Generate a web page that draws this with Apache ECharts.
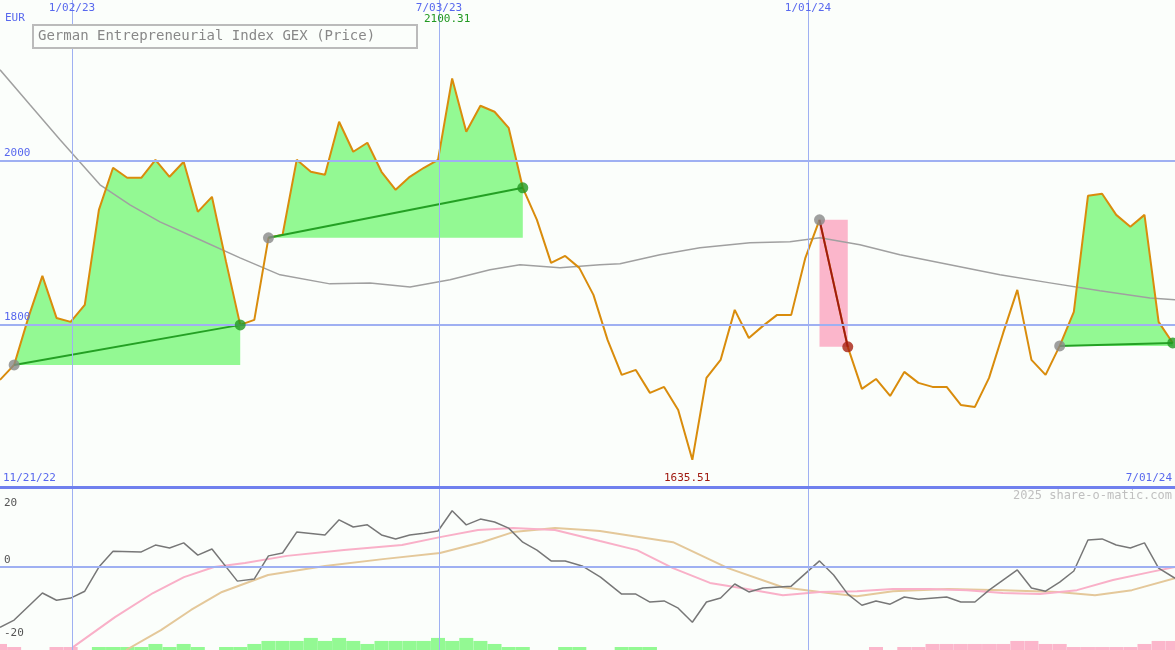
<!DOCTYPE html>
<html>
<head>
<meta charset="utf-8">
<script src="https://cdn.jsdelivr.net/npm/echarts@6/dist/echarts.min.js"></script>
<style>
  html, body { margin: 0; padding: 0; background: #fbfefb; }
  #chart { width: 1175px; height: 650px; }
</style>
</head>
<body>
<div id="chart"></div>
<script>
// weekly closes, index 0 = week of 11/28/22
var price = [1732.9, 1751.2, 1808.5, 1859.8, 1808.5, 1803.7, 1824.4, 1940.2, 1991.5, 1979.3,
  1979.3, 2001.2, 1980.5, 1998.8, 1937.8, 1956.1, 1876.8, 1800.0, 1806.1, 1906.1,
  1909.8, 2001.2, 1986.6, 1982.9, 2047.6, 2011.0, 2022.0, 1986.6, 1964.6, 1980.5,
  1991.5, 2001.2, 2100.31, 2035.4, 2067.1, 2059.8, 2040.2, 1967.1, 1928.0, 1875.6,
  1884.1, 1869.5, 1836.6, 1781.7, 1739.0, 1745.1, 1717.1, 1724.4, 1696.3, 1635.51,
  1735.4, 1757.3, 1818.3, 1784.1, 1798.8, 1812.2, 1812.2, 1881.7, 1928.0, 1851.2,
  1773.2, 1722.0, 1734.1, 1713.4, 1742.7, 1729.3, 1724.4, 1724.4, 1702.4, 1700.0,
  1735.4, 1790.2, 1842.7, 1757.3, 1739.0, 1774.4, 1815.9, 1957.3, 1959.8, 1934.1,
  1919.5, 1934.1, 1803.7, 1778.0];

// moving average [week, value]
var avgLine = [[0, 2111], [2.12, 2068.3], [4.25, 2025.6], [7.08, 1970.7], [9.2, 1946.3],
  [11.32, 1925.6], [14.15, 1903.7], [16.99, 1881.7], [19.82, 1861], [23.35, 1850],
  [26.19, 1851.2], [29.02, 1846.3], [31.85, 1854.9], [34.68, 1867.1], [36.8, 1873.2],
  [39.63, 1869.5], [42.46, 1873.2], [43.88, 1874.4], [46.71, 1885.4], [49.54, 1893.9],
  [53.08, 1900], [55.91, 1901.2], [58.03, 1906.1], [60.86, 1897.6], [63.69, 1885.4],
  [67.23, 1873.2], [70.77, 1861], [74.31, 1851.2], [77.85, 1841.5], [81.39, 1832.9],
  [83.16, 1830.5]];

// trades: [entry week, exit week, type]
var trades = [[1, 17, 'long'], [19, 37, 'long'], [58, 60, 'short'], [75, 83, 'long']];

// oscillator panel
var oscGrey = [[0, -16.7], [1, -14.7], [3, -7.2], [4, -9.2], [5, -8.6], [6, -6.7], [7, 0],
  [8, 4.4], [10, 4.2], [11, 6.1], [12, 5.3], [13, 6.7], [14, 3.3], [15, 5], [16.8, -3.9],
  [18, -3.3], [19, 3.1], [20, 3.9], [21, 9.7], [23, 8.9], [24, 13.1], [25, 11.1], [26, 11.7],
  [27, 8.9], [28, 7.8], [29, 8.9], [30, 9.4], [31, 10], [32, 15.6], [33, 11.7], [34, 13.3],
  [35, 12.5], [36, 10.8], [37, 6.9], [38, 4.7], [39, 1.7], [40, 1.7], [41.2, 0.3], [42.5, -2.8],
  [44, -7.5], [45, -7.5], [46, -9.7], [47, -9.4], [48, -11.4], [49, -15.3], [50, -9.7],
  [51, -8.6], [52, -4.7], [53, -6.9], [54, -5.8], [56, -5.3], [58, 1.7], [59, -2.2], [60, -7.5],
  [61, -10.6], [62, -9.4], [63, -10.3], [64, -8.3], [65, -8.9], [67, -8.3], [68, -9.7],
  [69, -9.7], [70, -6.4], [72, -0.8], [73, -5.8], [74, -6.7], [75, -4.2], [76, -1.1],
  [77, 7.5], [78, 7.8], [79, 6.1], [80, 5.3], [81, 6.7], [82, -0.3], [83.16, -3.1]];
var oscPink = [[5.17, -22.2], [8.14, -13.9], [10.83, -7.2], [13.02, -2.8], [15.15, 0], [17.34, 1.1],
  [20.31, 3.1], [24.35, 4.7], [28.45, 6.1], [31.14, 8.3], [33.83, 10.3], [36.31, 10.8],
  [39.28, 10.3], [42.46, 7.2], [45.08, 4.7], [47.63, -0.3], [50.25, -4.4], [52.87, -6.1],
  [55.41, -7.8], [58.03, -6.9], [60.65, -6.7], [63.2, -6.1], [65.82, -6.1], [68.44, -6.4],
  [70.98, -7.2], [73.6, -7.5], [76.22, -6.4], [78.77, -3.6], [81.39, -1.4], [83.16, 0]];
var oscTan = [[8.92, -23], [11.39, -17.5], [13.52, -11.9], [15.71, -6.9], [18.97, -2.2], [23, 0.3],
  [27.1, 2.2], [31.14, 3.9], [34.11, 6.9], [36.31, 9.7], [39.28, 10.8], [41.47, 10.3],
  [42.46, 10], [47.63, 6.9], [51.52, -0.3], [55.41, -5.6], [58.03, -6.9], [60.65, -8.1],
  [63.2, -6.7], [67.09, -6.1], [70.98, -6.4], [74.88, -6.9], [77.5, -7.8], [80.11, -6.4],
  [83.16, -3.1]];
var hist = [-2, -1, 0, 0, -1, -1, 0, 1, 1, 1, 1, 2, 1, 2, 1, 0, 1, 1, 2, 3,
  3, 3, 4, 3, 4, 3, 2, 3, 3, 3, 3, 4, 3, 4, 3, 2, 1, 1, 0, 0,
  1, 1, 0, 0, 1, 1, 1, 0, 0, 0, 0, 0, 0, 0, 0, 0, 0, 0, 0, 0,
  0, 0, -1, 0, -1, -1, -2, -2, -2, -2, -2, -2, -3, -3, -2, -2, -1, -1, -1, -1,
  -1, -2, -3, -3];

var dateLines = [5.1, 31.07, 57.18];
var dateLabels = ['1/02/23', '7/03/23', '1/01/24'];
var priceLevels = [2000, 1800];
var oscLevels = [20, 0, -20];

var FONT = 'DejaVu Sans Mono';
var BLUE = '#5868ee';
var GRID = '#9fb0f2';
var XMAX = 83.16;

var chart = echarts.init(document.getElementById('chart'));

function idx(arr) {
  return arr.map(function (v, i) { return [i, v]; });
}

var series = [];

// trade fills
trades.forEach(function (t) {
  var a = t[0], b = t[1];
  if (t[2] === 'long') {
    var seg = [];
    for (var i = a; i <= b; i++) seg.push([i, price[i]]);
    series.push({
      type: 'line', xAxisIndex: 0, yAxisIndex: 0, data: seg, symbol: 'none',
      lineStyle: { width: 0 }, areaStyle: { color: '#93f993', opacity: 1, origin: price[a] },
      silent: true, z: 1
    });
  } else {
    series.push({
      type: 'line', xAxisIndex: 0, yAxisIndex: 0, data: [], silent: true,
      markArea: {
        silent: true, itemStyle: { color: '#fbb6cb', opacity: 1 },
        data: [[{ coord: [a, price[a]] }, { coord: [b, price[b]] }]]
      }, z: 1
    });
  }
});

// moving average
series.push({
  type: 'line', xAxisIndex: 0, yAxisIndex: 0, data: avgLine, symbol: 'none',
  lineStyle: { color: '#a0a0a0', width: 1.5 }, z: 2,
  markLine: {
    silent: true, symbol: 'none', animation: false,
    lineStyle: { color: GRID, width: 1, type: 'solid' }, label: { show: false },
    data: dateLines.map(function (x) { return { xAxis: x }; })
  }
});

// horizontal price levels
series.push({
  type: 'line', xAxisIndex: 0, yAxisIndex: 0, data: [], z: 0,
  markLine: {
    silent: true, symbol: 'none', animation: false,
    lineStyle: { color: GRID, width: 2, type: 'solid' },
    label: { position: 'insideStartTop', color: BLUE, fontFamily: FONT, fontSize: 11, distance: [4, 2] },
    data: priceLevels.map(function (v) { return { yAxis: v }; })
  }
});

// price line
series.push({
  type: 'line', xAxisIndex: 0, yAxisIndex: 0, data: idx(price), symbol: 'none',
  lineStyle: { color: '#d98c0c', width: 2 }, z: 3
});

// trade lines and markers
trades.forEach(function (t) {
  var a = t[0], b = t[1];
  var isLong = t[2] === 'long';
  series.push({
    type: 'line', xAxisIndex: 0, yAxisIndex: 0, symbol: 'none', z: 4,
    data: [[a, price[a]], [b, price[b]]],
    lineStyle: { color: isLong ? '#24a024' : '#a01a10', width: 2 }
  });
  series.push({
    type: 'scatter', xAxisIndex: 0, yAxisIndex: 0, symbolSize: 11, z: 5,
    data: [
      { value: [a, price[a]], itemStyle: { color: '#888888' } },
      { value: [b, price[b]], itemStyle: { color: isLong ? '#229922' : '#a82010' } }
    ]
  });
});

// oscillator
series.push({
  type: 'bar', xAxisIndex: 1, yAxisIndex: 2, barWidth: 14, z: 1,
  data: hist.map(function (v, i) {
    return { value: [i, Math.abs(v)], itemStyle: { color: v >= 0 ? '#93f993' : '#fbb6cb' } };
  })
});
series.push({
  type: 'line', xAxisIndex: 1, yAxisIndex: 1, data: oscTan, symbol: 'none',
  lineStyle: { color: '#e4c89a', width: 2 }, z: 2
});
series.push({
  type: 'line', xAxisIndex: 1, yAxisIndex: 1, data: oscPink, symbol: 'none',
  lineStyle: { color: '#f9b0c8', width: 2 }, z: 3
});
series.push({
  type: 'line', xAxisIndex: 1, yAxisIndex: 1, data: oscGrey, symbol: 'none',
  lineStyle: { color: '#777777', width: 1.5 }, z: 4,
  markLine: {
    silent: true, symbol: 'none', animation: false,
    lineStyle: { color: GRID, width: 1, type: 'solid' }, label: { show: false },
    data: dateLines.map(function (x) { return { xAxis: x }; })
  }
});
series.push({
  type: 'line', xAxisIndex: 1, yAxisIndex: 1, data: [], z: 0,
  markLine: {
    silent: true, symbol: 'none', animation: false,
    lineStyle: { color: GRID, width: 2, type: 'solid' },
    label: { position: 'insideStartTop', color: '#555555', fontFamily: FONT, fontSize: 11, distance: [4, 1] },
    data: oscLevels.map(function (v) {
      var item = { yAxis: v, lineStyle: { color: v === 0 ? GRID : 'rgba(0,0,0,0)' } };
      if (v > 0) item.label = { position: 'insideStartBottom', distance: [4, 3] };
      return item;
    })
  }
});

var textStyle = { fontFamily: FONT, fontSize: 11 };
function label(x, y, text, color, align) {
  return { type: 'text', x: x, y: y, z: 20,
    style: Object.assign({ text: text, fill: color, textAlign: align || 'left' }, textStyle) };
}

var graphics = [
  { type: 'rect', shape: { x: 0, y: 486, width: 1175, height: 3 }, style: { fill: '#7080ee' }, z: 15 },
  { type: 'rect', shape: { x: 33, y: 25, width: 384, height: 23 },
    style: { fill: '#fbfefb', stroke: '#bbbbbb', lineWidth: 2 }, z: 15 },
  { type: 'text', x: 38, y: 29, z: 20,
    style: { text: 'German Entrepreneurial Index GEX (Price)', fill: '#888888', fontFamily: FONT, fontSize: 14 } },
  label(5, 13, 'EUR', BLUE),
  label(424, 14, '2100.31', '#229922'),
  label(664, 473, '1635.51', '#a01a10'),
  label(3, 473, '11/21/22', BLUE),
  label(1172, 473, '7/01/24', BLUE, 'right'),
  { type: 'text', x: 1172, y: 490, z: 20,
    style: { text: '2025 share-o-matic.com', fill: '#c0c0c0', textAlign: 'right', fontFamily: FONT, fontSize: 12 } }
];
var xPx = [72, 439, 808];
dateLabels.forEach(function (d, i) { graphics.push(label(xPx[i], 3, d, BLUE, 'center')); });

chart.setOption({
  animation: false,
  backgroundColor: '#fbfefb',
  grid: [
    { left: 0, right: 0, top: 0, height: 487 },
    { left: 0, right: 0, top: 487, height: 163 }
  ],
  xAxis: [
    { type: 'value', gridIndex: 0, min: 0, max: XMAX, show: false },
    { type: 'value', gridIndex: 1, min: 0, max: XMAX, show: false }
  ],
  yAxis: [
    { type: 'value', gridIndex: 0, min: 1602.4, max: 2196, show: false },
    { type: 'value', gridIndex: 1, min: -23, max: 22.2, show: false },
    { type: 'value', gridIndex: 1, min: 0, max: 54, show: false }
  ],
  graphic: graphics,
  series: series
});
</script>
</body>
</html>
